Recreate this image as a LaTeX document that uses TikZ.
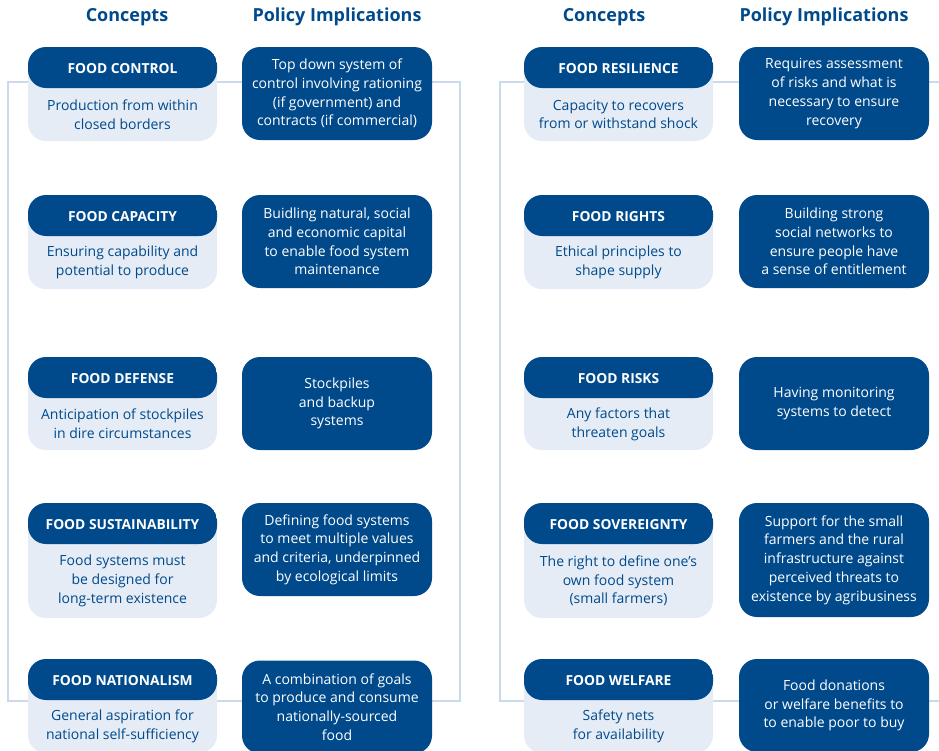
\documentclass[tikz,border=0pt]{standalone}
\usepackage{fontspec}
\setmainfont{Open Sans}
\usetikzlibrary{calc}
\definecolor{dkblue}{HTML}{004A8C}
\definecolor{ltblue}{HTML}{E5ECF5}
\definecolor{frameblue}{HTML}{CBDAEB}
\tikzset{
  frame/.style={draw=frameblue, line width=2.5pt},
  cbody/.style={fill=ltblue, rounded corners=18pt, minimum width=189pt, inner sep=0pt, outer sep=0pt,
    path picture={\fill[dkblue] (path picture bounding box.north west) rectangle ([yshift=-41pt]path picture bounding box.north east);}},
  ctitle/.style={text=white, font=\fontsize{13.8}{16}\selectfont\bfseries, inner sep=0pt},
  cdesc/.style={text=dkblue, font=\fontsize{14}{18.7}\selectfont, align=center, inner sep=0pt},
  pbox/.style={fill=dkblue, rounded corners=18pt, minimum width=190pt, inner sep=0pt, outer sep=0pt,
    text=white, font=\fontsize{14}{18.7}\selectfont, align=center},
  heading/.style={text=dkblue, font=\fontsize{18}{20}\selectfont\bfseries, inner sep=0pt}
}
\newcommand{\cbox}[6]{%
  \node[cbody, minimum height=#4pt, anchor=north] (#1) at (#2,#3) {};
  \node[ctitle] (#1-t) at ({#2},{#3+21.5}) {#5};
  \node[cdesc] (#1-d) at ({#2},{#3+41+(#4-41)/2}) {#6};
}
\begin{document}
\begin{tikzpicture}[x=1pt,y=-1pt]
\useasboundingbox (0,0) rectangle (939,750);
\clip (0,0) rectangle (939,750);
% frames
\draw[frame] (8,82) rectangle (460,701);
\draw[frame] (950,82) -| (500,701) -- (950,701);
% headings
\node[heading] (h1) at (127,17) {Concepts};
\node[heading] (h2) at (337,17) {Policy Implications};
\node[heading] (h3) at (604,17) {Concepts};
\node[heading] (h4) at (824,17) {Policy Implications};
% left column concepts
\cbox{c1}{122.5}{47}{94}{FOOD CONTROL}{Production from within\\closed borders}
\cbox{c2}{122.5}{195}{94}{FOOD CAPACITY}{Ensuring capability and\\potential to produce}
\cbox{c3}{122.5}{357}{93}{FOOD DEFENSE}{Anticipation of stockpiles\\in dire circumstances}
\cbox{c4}{122.5}{503}{115}{FOOD SUSTAINABILITY}{Food systems must\\be designed for\\long-term existence}
\cbox{c5}{122.5}{659}{94}{FOOD NATIONALISM}{General aspiration for\\national self-sufficiency}
% left column policies
\node[pbox, minimum height=93pt] (p1) at (337,93.5) {Top down system of\\control involving rationing\\(if government) and\\contracts (if commercial)};
\node[pbox, minimum height=93pt] (p2) at (337,241.5) {Buidling natural, social\\and economic capital\\to enable food system\\maintenance};
\node[pbox, minimum height=93pt] (p3) at (337,403.5) {Stockpiles\\and backup\\systems};
\node[pbox, minimum height=93pt] (p4) at (337,549.5) {Defining food systems\\to meet multiple values\\and criteria, underpinned\\by ecological limits};
\node[pbox, minimum height=93pt] (p5) at (337,707) {A combination of goals\\to produce and consume\\nationally-sourced\\food};
% right column concepts
\cbox{c6}{618.5}{47}{94}{FOOD RESILIENCE}{Capacity to recovers\\from or withstand shock}
\cbox{c7}{618.5}{195}{94}{FOOD RIGHTS}{Ethical principles to\\shape supply}
\cbox{c8}{618.5}{357}{93}{FOOD RISKS}{Any factors that\\threaten goals}
\cbox{c9}{618.5}{503}{115}{FOOD SOVEREIGNTY}{The right to define one’s\\own food system\\(small farmers)}
\cbox{c10}{618.5}{659}{94}{FOOD WELFARE}{Safety nets\\for availability}
% right column policies
\node[pbox, minimum height=93pt] (p6) at (834,93.5) {Requires assessment\\of risks and what is\\necessary to ensure\\recovery};
\node[pbox, minimum height=93pt] (p7) at (834,241.5) {Building strong\\social networks to\\ensure people have\\a sense of entitlement};
\node[pbox, minimum height=93pt] (p8) at (834,403.5) {Having monitoring\\systems to detect};
\node[pbox, minimum height=114pt] (p9) at (834,560) {Support for the small\\farmers and the rural\\infrastructure against\\perceived threats to\\existence by agribusiness};
\node[pbox, minimum height=93pt] (p10) at (834,705.5) {Food donations\\or welfare benefits to\\to enable poor to buy};
\end{tikzpicture}
\end{document}
